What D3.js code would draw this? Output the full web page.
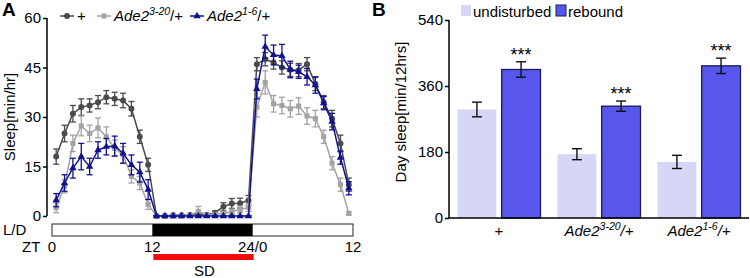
<!DOCTYPE html>
<html><head><meta charset="utf-8">
<script src="https://cdn.jsdelivr.net/npm/d3@7"></script>
<style>
body{margin:0;background:#fff;}
svg{display:block;font-family:"Liberation Sans",Arial,sans-serif;}
</style></head><body>
<svg id="chart" width="750" height="278"></svg>
<script>
// ---------- Panel A data ----------
const ztHours = [0.5,1.5,2.5,3.5,4.5,5.5,6.5,7.5,8.5,9.5,10.5,11.5,
  12.5,13.5,14.5,15.5,16.5,17.5,18.5,19.5,20.5,21.5,22.5,23.5,
  24.5,25.5,26.5,27.5,28.5,29.5,30.5,31.5,32.5,33.5,34.5,35.5];
const wtSleep = [18,25,31,33,33.5,34.5,36,35.5,35,32.5,24,15.5,
  0,0,0.2,0.2,0.3,0.5,0.4,1,2.8,3.8,3.9,4.7,
  46,47.5,46.5,45,44.3,44.2,46,40,34.5,29.5,22,9.5];
const wtErr = [2.3,2.5,2.5,2.5,2,2,2,2,2.2,2.2,2,2,
  0.2,0.2,0.2,0.2,0.3,0.3,0.3,0.5,1.2,1.5,1.5,1.5,
  2,2,2,2,2,2,2,2,2,2.5,2.5,2];
const ade320Sleep = [2.5,9,22,27.3,25,26.7,24,20.5,18.5,12,10,3.5,
  0,0,0,0,0.2,1.4,0.3,0.5,0.8,1.3,2,2.6,
  33,40.5,34,33.5,32.5,33.3,30.3,29.5,24,16,9.5,0.8];
const ade320Err = [1.5,2,2.5,3,2.5,3,3,2.5,2.5,2,2,1.5,
  0.2,0.2,0.2,0.2,0.3,1.5,0.3,0.5,0.6,0.8,1,1.2,
  3,3.5,2.5,2.5,2.5,2.5,2.5,2.5,2,2,2,0.5];
const ade16Sleep = [4.8,10,14.5,18,15,20,21,21.2,19,15.5,13.3,8,
  0,0,0,0,0,0,0,0,0,0,0,0,
  38.5,51.3,48.8,48.5,44.4,43.7,42.2,39.7,34.2,28.6,17.7,8.4];
const ade16Err = [2,2.5,3,4,2.5,2.5,2.5,3,3,3,3,3,
  0.1,0.1,0.1,0.1,0.1,0.1,0.1,0.1,0.1,0.1,0.1,0.1,
  3,3.5,3,3.5,2.5,2,2.5,2.5,2,2.5,2,2];
const sleepTicks = [0,15,30,45,60];
const ztTicks = [0,12,24,36];
const ztTickLabels = ["0","12","24/0","12"];
const darkPeriod = [12,24];
const sdPeriod = [12,24];

// ---------- Panel B data ----------
const genotypes = ["+","Ade2 3-20","Ade2 1-6"];
const conditions = ["undisturbed","rebound"];
const undisturbedSleep = [296,174,153];
const undisturbedErr = [20,15,18];
const reboundSleep = [405,305,415];
const reboundErr = [21,14,21];
const daySleepTicks = [0,180,360,540];
const significance = ["***","***","***"];

const svg = d3.select("#chart");
const FONT = 15;

// ================= Panel A =================
const xA = d3.scaleLinear().domain([0,36]).range([52,353]);
const yA = d3.scaleLinear().domain([0,60]).range([216,18]);

svg.append("text").attr("x",2).attr("y",16).attr("font-size",19).attr("font-weight","bold").text("A");

const gAy = svg.append("g").attr("transform","translate(47,0)")
  .call(d3.axisLeft(yA).tickValues(sleepTicks).tickSize(4).tickPadding(2));
gAy.select(".domain").attr("stroke","#000").attr("stroke-width",1.5).attr("d","M0,"+yA(60)+"V"+yA(0));
gAy.selectAll(".tick line").attr("stroke-width",1.5);
gAy.selectAll(".tick text").attr("font-size",FONT).attr("font-family","Liberation Sans, Arial, sans-serif").attr("fill","#000");

svg.append("text").attr("transform","translate(15,117) rotate(-90)")
  .attr("text-anchor","middle").attr("font-size",FONT).text("Sleep[min/hr]");

const seriesA = [
  {name:"+", vals:wtSleep, err:wtErr, color:"#4a4a4a", shape:"circle"},
  {name:"3-20", vals:ade320Sleep, err:ade320Err, color:"#a3a3a3", shape:"square"},
  {name:"1-6", vals:ade16Sleep, err:ade16Err, color:"#121290", shape:"triangle"}
];
const symbolFor = s => s==="circle" ? d3.symbol(d3.symbolCircle,28) :
  s==="square" ? d3.symbol(d3.symbolSquare,26) : d3.symbol(d3.symbolTriangle,24);

seriesA.forEach(s=>{
  const g = svg.append("g");
  const pts = ztHours.map((h,i)=>({h, v:s.vals[i], e:s.err[i]}));
  const eb = g.selectAll("g.eb").data(pts).join("g").attr("stroke",s.color).attr("stroke-width",1.3);
  eb.append("line").attr("x1",d=>xA(d.h)).attr("x2",d=>xA(d.h))
    .attr("y1",d=>yA(Math.max(0,d.v-d.e))).attr("y2",d=>yA(d.v+d.e));
  eb.append("line").attr("x1",d=>xA(d.h)-3).attr("x2",d=>xA(d.h)+3)
    .attr("y1",d=>yA(d.v+d.e)).attr("y2",d=>yA(d.v+d.e));
  eb.append("line").attr("x1",d=>xA(d.h)-3).attr("x2",d=>xA(d.h)+3)
    .attr("y1",d=>yA(Math.max(0,d.v-d.e))).attr("y2",d=>yA(Math.max(0,d.v-d.e)));
  g.append("path").datum(pts).attr("fill","none").attr("stroke",s.color).attr("stroke-width",1.5)
    .attr("d",d3.line().x(d=>xA(d.h)).y(d=>yA(d.v)));
  g.selectAll("path.m").data(pts).join("path").attr("class","m")
    .attr("transform",d=>`translate(${xA(d.h)},${yA(d.v)})`)
    .attr("d",symbolFor(s.shape)()).attr("fill",s.color);
});

// Legend A
const legA = [
  {x:60, s:seriesA[0], label:[["+",0]]},
  {x:97, s:seriesA[1], label:[["Ade2",0],["3-20",1],["/+",0]]},
  {x:190, s:seriesA[2], label:[["Ade2",0],["1-6",1],["/+",0]]}
];
legA.forEach(L=>{
  const g = svg.append("g").attr("transform",`translate(${L.x},16)`);
  g.append("line").attr("x1",0).attr("x2",14).attr("stroke",L.s.color).attr("stroke-width",1.5);
  g.append("path").attr("transform","translate(7,0)").attr("d",symbolFor(L.s.shape)()).attr("fill",L.s.color);
  const t = g.append("text").attr("x",17).attr("y",5).attr("font-size",FONT);
  L.label.forEach(([txt,sup],i)=>{
    const ts = t.append("tspan").text(txt);
    if (txt!=="+") ts.attr("font-style", txt==="/+" ? "normal" : "italic");
    if (sup) ts.attr("font-size",10.5).attr("dy",-6).attr("font-style","italic");
    else if (i>0 && L.label[i-1][1]) ts.attr("dy",6);
  });
});

// L/D bar
svg.append("rect").attr("x",xA(0)).attr("y",224).attr("width",xA(36)-xA(0)).attr("height",12)
  .attr("fill","#fff").attr("stroke","#222").attr("stroke-width",1);
svg.append("rect").attr("x",xA(darkPeriod[0])).attr("y",224).attr("width",xA(darkPeriod[1])-xA(darkPeriod[0])).attr("height",12)
  .attr("fill","#000");
svg.append("text").attr("x",3).attr("y",235).attr("font-size",FONT).text("L/D");
svg.append("text").attr("x",22).attr("y",252).attr("font-size",FONT).text("ZT");
svg.selectAll("text.zt").data(ztTicks).join("text").attr("class","zt")
  .attr("x",d=>xA(d)).attr("y",252).attr("text-anchor","middle").attr("font-size",FONT)
  .text((d,i)=>ztTickLabels[i]);
svg.append("rect").attr("x",xA(sdPeriod[0])+1).attr("y",254).attr("width",xA(sdPeriod[1])-xA(sdPeriod[0])).attr("height",6)
  .attr("fill","#f20c0c");
svg.append("text").attr("x",(xA(12)+xA(24))/2+2).attr("y",276).attr("text-anchor","middle").attr("font-size",FONT).text("SD");

// ================= Panel B =================
const x0 = d3.scaleBand().domain(genotypes).range([449,749]).paddingInner(0.17).paddingOuter(0.085);
const x1 = d3.scaleBand().domain(conditions).range([0,x0.bandwidth()]).paddingInner(0.12);
const yB = d3.scaleLinear().domain([0,540]).range([218,20]);
const colors = {undisturbed:"#d6d6f6", rebound:"#5757ee"};

svg.append("text").attr("x",372).attr("y",16).attr("font-size",19).attr("font-weight","bold").text("B");

const gBy = svg.append("g").attr("transform","translate(449,0)")
  .call(d3.axisLeft(yB).tickValues(daySleepTicks).tickSize(4).tickPadding(2));
gBy.select(".domain").attr("stroke","#000").attr("stroke-width",1.5).attr("d","M0,"+yB(540)+"V"+yB(0));
gBy.selectAll(".tick line").attr("stroke-width",1.5);
gBy.selectAll(".tick text").attr("font-size",FONT).attr("font-family","Liberation Sans, Arial, sans-serif").attr("fill","#000");

svg.append("text").attr("transform","translate(406,112) rotate(-90)")
  .attr("text-anchor","middle").attr("font-size",FONT).text("Day sleep[min/12hrs]");

const barData = [];
genotypes.forEach((g,i)=>{
  barData.push({g, c:"undisturbed", v:undisturbedSleep[i], e:undisturbedErr[i]});
  barData.push({g, c:"rebound", v:reboundSleep[i], e:reboundErr[i], sig:significance[i]});
});
const bars = svg.append("g");
bars.selectAll("rect").data(barData).join("rect")
  .attr("x",d=>x0(d.g)+x1(d.c)).attr("width",x1.bandwidth())
  .attr("y",d=>yB(d.v)).attr("height",d=>yB(0)-yB(d.v))
  .attr("fill",d=>colors[d.c])
  .attr("stroke",d=>d.c==="rebound"?"#1c1c5a":"none").attr("stroke-width",1.3);
const ebB = bars.selectAll("g.eb").data(barData).join("g").attr("stroke","#111").attr("stroke-width",1.4);
const cx = d=>x0(d.g)+x1(d.c)+x1.bandwidth()/2;
ebB.append("line").attr("x1",cx).attr("x2",cx).attr("y1",d=>yB(d.v-d.e)).attr("y2",d=>yB(d.v+d.e));
ebB.append("line").attr("x1",d=>cx(d)-5).attr("x2",d=>cx(d)+5).attr("y1",d=>yB(d.v+d.e)).attr("y2",d=>yB(d.v+d.e));
ebB.append("line").attr("x1",d=>cx(d)-5).attr("x2",d=>cx(d)+5).attr("y1",d=>yB(d.v-d.e)).attr("y2",d=>yB(d.v-d.e));
bars.selectAll("text.sig").data(barData.filter(d=>d.sig)).join("text").attr("class","sig")
  .attr("x",cx).attr("y",d=>yB(d.v+d.e)-1).attr("text-anchor","middle").attr("font-size",18).text(d=>d.sig);

// x axis B
svg.append("line").attr("x1",449).attr("x2",749).attr("y1",yB(0)).attr("y2",yB(0)).attr("stroke","#000").attr("stroke-width",1.5);
const xLabels = [[["+",0]],[["Ade2",0],["3-20",1],["/+",0]],[["Ade2",0],["1-6",1],["/+",0]]];
genotypes.forEach((g,i)=>{
  const t = svg.append("text").attr("x",x0(g)+x0.bandwidth()/2).attr("y",236)
    .attr("text-anchor","middle").attr("font-size",FONT);
  xLabels[i].forEach(([txt,sup],j)=>{
    const ts = t.append("tspan").text(txt);
    if (txt!=="+") ts.attr("font-style","italic");
    if (sup) ts.attr("font-size",10.5).attr("dy",-6);
    else if (j>0 && xLabels[i][j-1][1]) ts.attr("dy",6);
  });
});

// Legend B
const legB = svg.append("g");
legB.append("rect").attr("x",461).attr("y",5).attr("width",10).attr("height",11).attr("fill",colors.undisturbed);
legB.append("text").attr("x",473).attr("y",17).attr("font-size",FONT).text("undisturbed");
legB.append("rect").attr("x",556).attr("y",5).attr("width",10).attr("height",11).attr("fill",colors.rebound).attr("stroke","#1c1c5a").attr("stroke-width",1);
legB.append("text").attr("x",568).attr("y",17).attr("font-size",FONT).text("rebound");
</script>
</body></html>
